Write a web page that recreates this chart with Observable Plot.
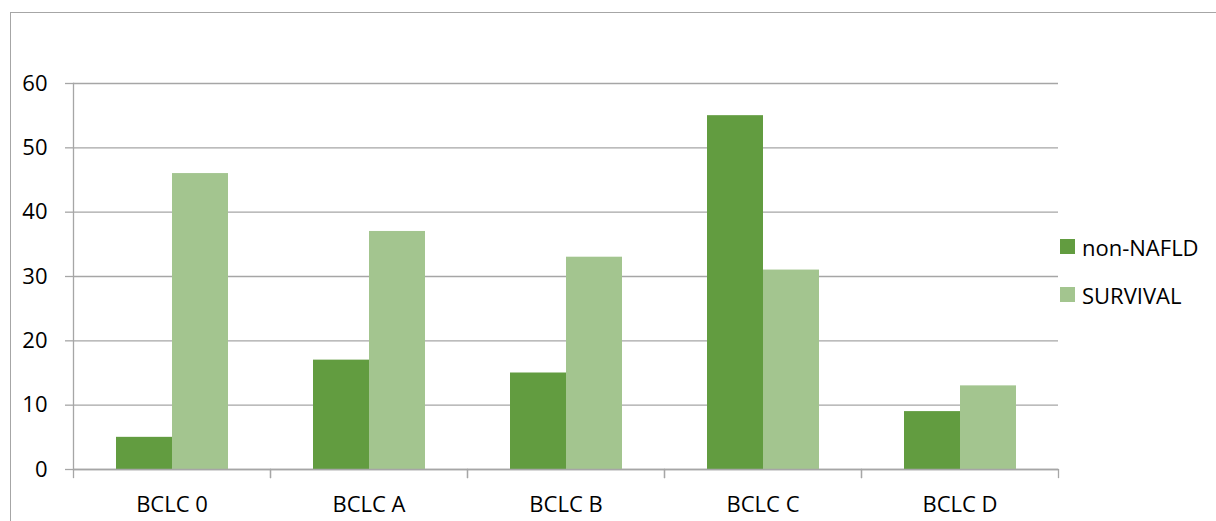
<!DOCTYPE html>
<html>
<head>
<meta charset="utf-8">
<script src="https://cdn.jsdelivr.net/npm/d3@7"></script>
<script src="https://cdn.jsdelivr.net/npm/@observablehq/plot@0.6"></script>
<style>
  html, body { margin: 0; padding: 0; background: #fff; overflow: hidden; }
  #wrap { position: relative; width: 1216px; height: 521px; overflow: hidden; font-family: "Open Sans", sans-serif; }
  #border { position: absolute; left: 10px; top: 12px; width: 1400px; height: 700px; border: 1.3px solid #a6a6a6; box-sizing: border-box; }
  #chart { position: absolute; left: 0; top: 0; }
  #legend { position: absolute; left: 1060px; top: 235px; font-size: 22px; color: #000; }
  .item { display: flex; align-items: center; height: 23px; margin-bottom: 25px; white-space: nowrap; }
  .sw { width: 15px; height: 15px; margin-right: 7px; flex: none; }
</style>
</head>
<body>
<div id="wrap">
  <div id="border"></div>
  <div id="chart"></div>
  <div id="legend"></div>
</div>
<script>
const categories = ["BCLC 0", "BCLC A", "BCLC B", "BCLC C", "BCLC D"];
const series = ["non-NAFLD", "SURVIVAL"];
const nonNafld = [5, 17, 15, 55, 9];
const survival = [46, 37, 33, 31, 13];
const yTicks = [0, 10, 20, 30, 40, 50, 60];
const colors = ["#629c40", "#a3c58f"];

const data = categories.flatMap((c, i) => [
  {cat: c, series: series[0], value: nonNafld[i]},
  {cat: c, series: series[1], value: survival[i]}
]);

const gray = "#a6a6a6";

const chart = Plot.plot({
  width: 1216,
  height: 521,
  marginLeft: 72,
  marginRight: 157,
  marginTop: 83,
  marginBottom: 52,
  style: {fontFamily: "'Open Sans', sans-serif", fontSize: "22px", color: "#000", background: "transparent", overflow: "visible"},
  fx: {domain: categories, padding: 0, label: null},
  x: {domain: series, paddingInner: 0, paddingOuter: 0.747, axis: null},
  y: {domain: [0, 60], label: null},
  color: {domain: series, range: colors},
  marks: [
    Plot.gridY(yTicks, {stroke: gray, strokeOpacity: 1, strokeWidth: 1.3}),
    Plot.barY(data, {fx: "cat", x: "series", y: "value", fill: "series"}),
    Plot.ruleY([0], {stroke: gray, strokeWidth: 1.3}),
    Plot.frame({anchor: "left", facet: "super", stroke: gray, strokeWidth: 1.3}),
    Plot.frame({anchor: "left", insetTop: 386, insetBottom: -8, stroke: gray, strokeWidth: 1.3}),
    Plot.frame({anchor: "right", insetTop: 386, insetBottom: -8, stroke: gray, strokeWidth: 1.3}),
    Plot.axisY(yTicks, {tickSize: 8, tickPadding: 18, stroke: gray, strokeWidth: 1.3, strokeOpacity: 1, fill: "#000", label: null}),
    Plot.axisFx({anchor: "bottom", tickSize: 0, tickPadding: 27, fill: "#000", label: null})
  ]
});
document.getElementById("chart").appendChild(chart);

const legend = document.getElementById("legend");
series.forEach((s, i) => {
  const item = document.createElement("div");
  item.className = "item";
  const sw = document.createElement("span");
  sw.className = "sw";
  sw.style.background = colors[i];
  const t = document.createElement("span");
  t.textContent = s;
  item.appendChild(sw);
  item.appendChild(t);
  legend.appendChild(item);
});
</script>
</body>
</html>
